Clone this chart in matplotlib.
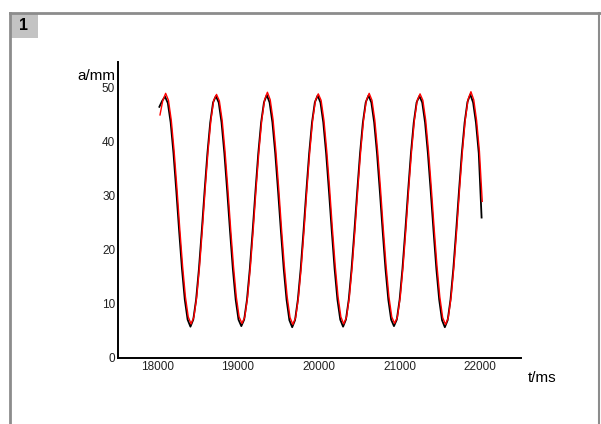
import numpy as np
import matplotlib
matplotlib.use('Agg')
import matplotlib.pyplot as plt
from matplotlib.patches import Rectangle

plt.rcParams['font.family'] = ['Liberation Sans', 'DejaVu Sans']

# sample grid (ms)
t_first = 18035
t_step = 35

# red: fitted curve, one value per sample
fit_a = [45.0, 47.7,
         49.0, 47.7, 44.0, 38.3, 31.4, 23.9, 17.0, 11.3, 7.6, 6.3, 7.6, 11.3, 17.0, 23.9, 31.4, 38.3, 44.0, 47.7,
         48.8, 47.6, 44.0, 38.3, 31.4, 23.9, 17.0, 11.3, 7.6, 6.4, 7.6, 11.3, 17.0, 23.9, 31.4, 38.3, 44.0, 47.8,
         49.2, 47.8, 44.1, 38.3, 31.4, 23.9, 17.0, 11.3, 7.5, 6.2, 7.5, 11.3, 17.0, 23.9, 31.4, 38.3, 44.0, 47.7,
         48.9, 47.7, 44.0, 38.3, 31.4, 23.9, 17.0, 11.3, 7.6, 6.3, 7.6, 11.3, 17.0, 23.9, 31.4, 38.3, 44.0, 47.7,
         49.0, 47.7, 44.0, 38.3, 31.4, 23.9, 17.0, 11.3, 7.6, 6.4, 7.6, 11.3, 17.0, 23.9, 31.4, 38.3, 44.0, 47.7,
         48.9, 47.7, 44.0, 38.3, 31.4, 23.9, 17.0, 11.3, 7.5, 6.2, 7.5, 11.3, 17.0, 23.9, 31.4, 38.3, 44.1, 47.9,
         49.3, 47.8, 44.0, 38.3, 29.0]

# black: measured amplitude, samples 8 ms earlier
meas_shift = -8
meas_a = [46.5, 47.6,
          48.4, 47.2, 43.6, 37.9, 30.9, 23.5, 16.5, 10.8, 7.1, 5.8, 7.1, 10.8, 16.5, 23.5, 30.9, 37.9, 43.6, 47.3,
          48.5, 47.3, 43.6, 37.9, 30.9, 23.5, 16.5, 10.8, 7.1, 5.9, 7.1, 10.8, 16.5, 23.5, 30.9, 37.9, 43.6, 47.3,
          48.7, 47.3, 43.6, 37.9, 30.9, 23.5, 16.5, 10.8, 7.0, 5.7, 7.0, 10.8, 16.5, 23.5, 30.9, 37.9, 43.6, 47.3,
          48.6, 47.3, 43.6, 37.9, 30.9, 23.5, 16.5, 10.8, 7.1, 5.8, 7.1, 10.8, 16.5, 23.5, 30.9, 37.9, 43.6, 47.3,
          48.6, 47.3, 43.6, 37.9, 30.9, 23.5, 16.5, 10.8, 7.1, 5.9, 7.1, 10.8, 16.5, 23.5, 30.9, 37.9, 43.6, 47.3,
          48.5, 47.3, 43.6, 37.9, 30.9, 23.5, 16.5, 10.8, 7.0, 5.7, 7.0, 10.8, 16.5, 23.5, 30.9, 37.9, 43.6, 47.4,
          48.8, 47.3, 43.6, 37.9, 26.0]

x_ticks = [18000, 19000, 20000, 21000, 22000]
y_ticks = [0, 10, 20, 30, 40, 50]

t_fit = t_first + t_step * np.arange(len(fit_a))
t_meas = t_first + meas_shift + t_step * np.arange(len(meas_a))

fig = plt.figure(figsize=(6.01, 4.24), dpi=100)
W, H = 601.0, 424.0

# outer panel frame and number box
frame_col = '#8c8c8c'
fig.add_artist(plt.Line2D([10 / W, 10 / W], [0, 1 - 13 / H], color=frame_col, lw=2))
fig.add_artist(plt.Line2D([10 / W, 1], [1 - 13 / H, 1 - 13 / H], color=frame_col, lw=2))
fig.add_artist(plt.Line2D([599 / W, 599 / W], [0, 1 - 13 / H], color=frame_col, lw=1.5))
fig.add_artist(Rectangle((11 / W, 1 - 38 / H), 27 / W, 24 / H, transform=fig.transFigure,
                         facecolor='#c3c3c3', edgecolor='none'))
fig.text(24 / W, 1 - 26 / H, '1', fontsize=11.5, fontweight='bold', ha='center', va='center')

ax = fig.add_axes([118 / W, 1 - 358 / H, 403 / W, 296 / H])
ax.plot(t_meas, meas_a, color='black', lw=1.3)
ax.plot(t_fit, fit_a, color='red', lw=1.0)

ax.set_xlim(17515, 22505)
ax.set_ylim(0, 54.8)
ax.set_xticks(x_ticks)
ax.set_yticks(y_ticks)
ax.tick_params(length=0, labelsize=8.5, colors='#222222')
ax.tick_params(axis='x', pad=2)
ax.tick_params(axis='y', pad=2)
for s in ['top', 'right']:
    ax.spines[s].set_visible(False)
for s in ['left', 'bottom']:
    ax.spines[s].set_linewidth(1.4)

fig.text(115 / W, 1 - 76 / H, 'a/mm', fontsize=11, ha='right', va='center')
fig.text(528 / W, 1 - 378 / H, 't/ms', fontsize=11, ha='left', va='center')

fig.savefig('out.png', dpi=100)
